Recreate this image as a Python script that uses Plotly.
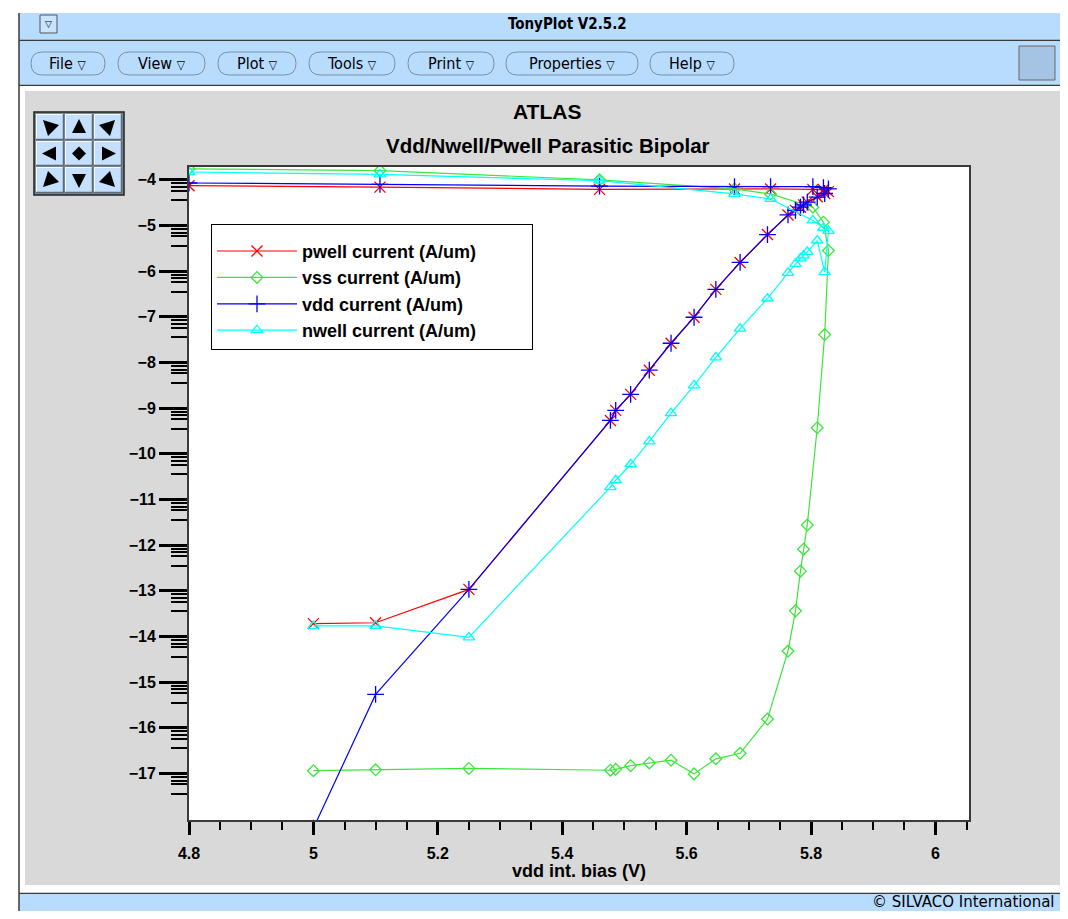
import plotly.graph_objects as go

# ---------------- data ----------------
vdd_bias = [5.0, 5.1, 5.25, 5.4775, 5.486, 5.51, 5.54, 5.575, 5.612, 5.647, 5.686, 5.73,
            5.763, 5.775, 5.783, 5.788, 5.794, 5.81, 5.822, 5.828, 5.82, 5.803, 5.735,
            5.677, 5.46, 5.107, 4.80]
pwell_current = [-13.72, -13.70, -12.97, -9.27, -9.05, -8.70, -8.17, -7.58, -7.01, -6.40, -5.81, -5.20,
                 -4.77, -4.67, -4.60, -4.55, -4.49, -4.37, -4.30, -4.26, -4.22, -4.21, -4.20,
                 -4.20, -4.21, -4.16, -4.13]
vss_current = [-16.94, -16.92, -16.89, -16.93, -16.91, -16.83, -16.77, -16.71, -17.01, -16.68, -16.56, -15.81,
               -14.32, -13.44, -12.57, -12.09, -11.56, -9.43, -7.39, -5.55, -4.93, -4.60, -4.31,
               -4.20, -4.00, -3.80, -3.76]
vdd_current = [-18.20, -15.27, -12.97, -9.27, -9.05, -8.70, -8.17, -7.58, -7.01, -6.40, -5.81, -5.20,
               -4.77, -4.67, -4.60, -4.55, -4.49, -4.38, -4.30, -4.20, -4.17, -4.15, -4.15,
               -4.15, -4.14, -4.10, -4.07]
nwell_current = [-13.77, -13.77, -14.02, -10.73, -10.58, -10.23, -9.73, -9.11, -8.50, -7.89, -7.26, -6.60,
                 -6.04, -5.84, -5.72, -5.66, -5.58, -5.33, -6.02, -5.12, -5.05, -4.89, -4.42,
                 -4.31, -4.02, -3.88, -3.83]

series_names = ["pwell current (A/um)", "vss current (A/um)", "vdd current (A/um)", "nwell current (A/um)"]
x_tick_vals = [4.8, 5.0, 5.2, 5.4, 5.6, 5.8, 6.0]
x_tick_text = ["4.8", "5", "5.2", "5.4", "5.6", "5.8", "6"]
y_tick_vals = list(range(-17, -3))
menu_labels = ["File", "View", "Plot", "Tools", "Print", "Properties", "Help"]

# ---------------- styling ----------------
colors = ["#ff0000", "#3ce63c", "#0000ff", "#00ffff"]
symbols = ["x-thin-open", "diamond-open", "cross-thin-open", "triangle-up-open"]
sizes = [11, 9, 12, 10]
values = [pwell_current, vss_current, vdd_current, nwell_current]
legend_pad = "\u00a0" * 10  # widens the legend box like the original

OFF = 8  # browser body margin
FIG_W, FIG_H = 1060 - OFF, 919 - 2 * OFF
PL, PR, PT, PB = 189, 969, 167, 820  # plot area in page pixels


def P(X):
    return (X - PL) / (PR - PL)


def Q(Y):
    return (PB - Y) / (PB - PT)


BLUE = "#b8dcfe"
GRAY = "#d9d9d9"
DARK = "#3a3a3a"

fig = go.Figure()
for i in range(4):
    fig.add_trace(go.Scatter(
        x=vdd_bias, y=values[i],
        name=series_names[i] + (legend_pad if i == 3 else ""),
        mode="lines+markers",
        legendgroup=f"g{i}",
        line=dict(color=colors[i], width=1.2),
        marker=dict(symbol=symbols[i], size=sizes[i], color=colors[i],
                    line=dict(color=colors[i], width=1.3)),
    ))

shapes = []


def rect(x0, y0, x1, y1, fill, lc=None, lw=0):
    shapes.append(dict(type="rect", xref="paper", yref="paper",
                       x0=P(x0), x1=P(x1), y0=Q(y1), y1=Q(y0), fillcolor=fill,
                       line=dict(color=lc or fill, width=lw)))


def hline(x0, x1, y, color=DARK, w=1.5):
    shapes.append(dict(type="line", xref="paper", yref="paper",
                       x0=P(x0), x1=P(x1), y0=Q(y), y1=Q(y), line=dict(color=color, width=w)))


def vline(x, y0, y1, color=DARK, w=1.5):
    shapes.append(dict(type="line", xref="paper", yref="paper",
                       x0=P(x), x1=P(x), y0=Q(y0), y1=Q(y1), line=dict(color=color, width=w)))


def poly(pts, fill, lc=None, lw=0):
    d = "M " + " L ".join(f"{P(a):.5f},{Q(b):.5f}" for a, b in pts) + " Z"
    shapes.append(dict(type="path", xref="paper", yref="paper", path=d,
                       fillcolor=fill, line=dict(color=lc or fill, width=lw)))


def pill(x0, x1, y0, y1, fill, lc):
    ym = (y0 + y1) / 2
    r = (y1 - y0) / 2
    pts = [
        ("M", x0 + r, y0), ("L", x1 - r, y0), ("Q", x1, y0, x1, ym), ("Q", x1, y1, x1 - r, y1),
        ("L", x0 + r, y1), ("Q", x0, y1, x0, ym), ("Q", x0, y0, x0 + r, y0),
    ]
    d = ""
    for p in pts:
        if p[0] == "Q":
            d += f"Q {P(p[1]):.5f},{Q(p[2]):.5f} {P(p[3]):.5f},{Q(p[4]):.5f} "
        else:
            d += f"{p[0]} {P(p[1]):.5f},{Q(p[2]):.5f} "
    d += "Z"
    shapes.append(dict(type="path", xref="paper", yref="paper", path=d,
                       fillcolor=fill, line=dict(color=lc, width=1)))


# window chrome
rect(OFF, OFF, 25, 919, "white")
rect(OFF, OFF, 1068, 13, "white")
rect(19, 13, 1068, 40, BLUE)
hline(19, 1068, 40.5)
rect(19, 41, 1068, 85, BLUE)
hline(19, 1068, 85.5)
rect(19, 86, 1068, 91, "white")
rect(19, 885, 1068, 893, "white")
hline(19, 1068, 893.5)
rect(19, 894, 1068, 919, BLUE)
vline(19, 13, 919)
# title-bar button
rect(40, 15, 57, 33, "#c8e4ff", "#555", 1)
# right box in menu bar
rect(1019, 46, 1055, 80, "#a5c3e2", "#666", 1)

annotations = []


def text(x, y, s, size, bold=False, anchor="center", family="Liberation Sans, Arial", color="black"):
    annotations.append(dict(x=P(x), y=Q(y), xref="paper", yref="paper", text=s, showarrow=False,
                            xanchor=anchor, yanchor="middle",
                            font=dict(family=family, size=size, color=color,
                                      weight="bold" if bold else "normal")))


CONDENSED = "DejaVu Sans Condensed, DejaVu Sans"
text(48.5, 24, "▽", 9, family="DejaVu Sans")
text(567, 24, "TonyPlot V2.5.2", 15, bold=True, family=CONDENSED)

menu_x = [(31, 105), (118, 205), (218, 296), (309, 395), (408, 494), (506, 638), (650, 734)]
for lab, (a, b) in zip(menu_labels, menu_x):
    pill(a, b, 52, 75, BLUE, "#7d8ea0")
    text((a + b) / 2, 63.5, f"{lab} <span style='font-size:12px'>▽</span>", 16, family=CONDENSED)

text(1057, 901.5, "© SILVACO International", 15, anchor="right", family="DejaVu Sans")

# navigation button grid
rect(34, 112, 124, 195, "#7f8c99", "#222", 1.5)
cols = [(36, 64), (65, 93), (94, 122)]
rows = [(114, 140), (141, 166), (167, 193)]
arrows = [
    [[(-7, -7), (9, -2), (-2, 9)], [(0, -8), (-7, 6), (7, 6)], [(7, -7), (-9, -2), (2, 9)]],
    [[(-8, 0), (6, -7), (6, 7)], [(0, -7), (7, 0), (0, 7), (-7, 0)], [(8, 0), (-6, -7), (-6, 7)]],
    [[(-7, 7), (-2, -9), (9, 2)], [(0, 8), (-7, -6), (7, -6)], [(7, 7), (-9, 2), (2, -9)]],
]
for r, (y0, y1) in enumerate(rows):
    for c, (x0, x1) in enumerate(cols):
        rect(x0, y0, x1, y1, "#c4e0fc")
        hline(x0, x1, y0 + 0.5, "#f4faff", 1)
        vline(x0 + 0.5, y0, y1, "#f4faff", 1)
        hline(x0, x1, y1 - 0.5, "#5d6a78", 1.5)
        vline(x1 - 0.5, y0, y1, "#5d6a78", 1.5)
        cx, cy = (x0 + x1) / 2, (y0 + y1) / 2
        poly([(cx + dx, cy + dy) for dx, dy in arrows[r][c]], "black")

# plot titles
text(547, 112, "ATLAS", 21, bold=True)
text(548, 146, "Vdd/Nwell/Pwell Parasitic Bipolar", 20.5, bold=True)
text(579, 871, "vdd int. bias (V)", 18, bold=True)

# minor ticks on y (uneven, as in the original)
y_minor_offsets = [0.08, 0.155, 0.24, 0.45]
y_minor = [m - o for m in range(-4, -18, -1) for o in y_minor_offsets if m - o > -18.02]

tickfont = dict(family="Liberation Sans, Arial", size=16, color="black", weight="bold")

fig.update_layout(
    width=FIG_W, height=FIG_H, autosize=False,
    margin=dict(l=PL - OFF, r=FIG_W - (PR - OFF), t=PT - OFF, b=FIG_H - (PB - OFF), pad=0),
    paper_bgcolor=GRAY, plot_bgcolor="white",
    shapes=shapes, annotations=annotations,
    showlegend=True,
    legend=dict(x=P(211), y=Q(224), xanchor="left", yanchor="top",
                bgcolor="white", bordercolor="black", borderwidth=1,
                font=dict(family="Liberation Sans, Arial", size=18, color="black", weight="bold"),
                itemwidth=80, tracegroupgap=0,
                title=dict(text="\u00a0", font=dict(size=6))),
    xaxis=dict(range=[4.8, 6.054], tickvals=x_tick_vals, ticktext=x_tick_text,
               ticks="outside", ticklen=13, tickwidth=2.5, tickcolor="black",
               showline=True, linecolor=DARK, linewidth=2, mirror=True,
               showgrid=False, zeroline=False, tickfont=tickfont, ticklabelstandoff=5,
               minor=dict(dtick=0.05, tick0=4.8, ticks="outside", ticklen=8, tickwidth=1.5,
                          tickcolor="black", showgrid=False)),
    yaxis=dict(range=[-18.02, -3.72], tickvals=y_tick_vals,
               ticks="outside", ticklen=28, tickwidth=3, tickcolor="black",
               showline=True, linecolor=DARK, linewidth=2, mirror=True,
               showgrid=False, zeroline=False, tickfont=tickfont,
               minor=dict(tickmode="array", tickvals=y_minor, ticks="outside", ticklen=16,
                          tickwidth=1.5, tickcolor="black", showgrid=False)),
)

fig.write_html("out.html")
